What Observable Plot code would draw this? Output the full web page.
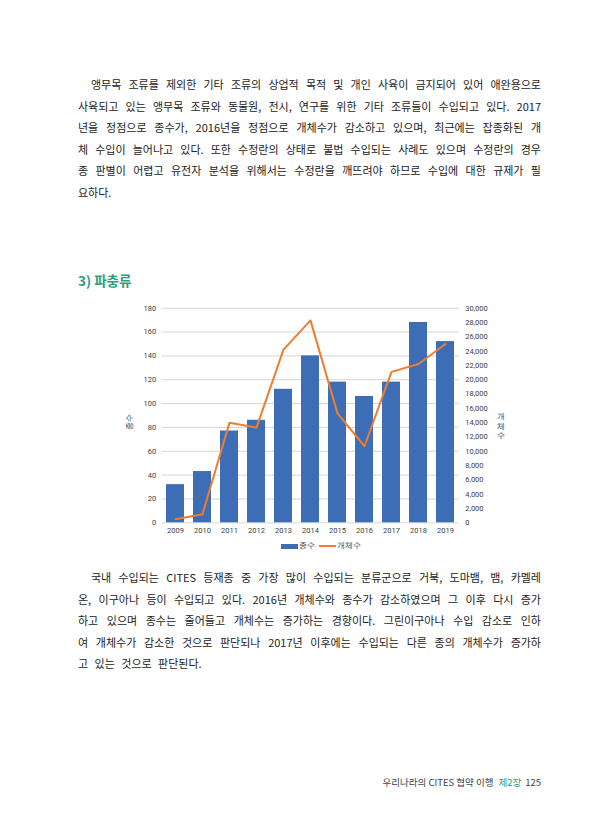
<!DOCTYPE html>
<html>
<head>
<meta charset="utf-8">
<script src="https://cdn.jsdelivr.net/npm/d3@7"></script>
<script src="https://cdn.jsdelivr.net/npm/@observablehq/plot@0.6"></script>
<style>
  html, body { margin: 0; padding: 0; background: #fff; }
  body { width: 614px; height: 830px; position: relative; overflow: hidden;
         font-family: "Noto Sans CJK KR", "Noto Sans", sans-serif; color: #222; }
  .para { position: absolute; left: 78px; width: 463px; font-size: 11px; }
  .para .ln { height: 21.6px; line-height: 21.6px; text-align: justify; text-align-last: justify; white-space: nowrap; }
  .para .ln.last { text-align-last: left; word-spacing: 4px; }
  .para .ln.indent { padding-left: 13px; }
  #title { position: absolute; left: 78px; top: 270px; font-size: 13.5px; font-weight: 700; color: #2e9c7e; line-height: 20px; }
  #chart { position: absolute; left: 0; top: 295px; }
  #legend { position: absolute; top: 541px; left: 281px; display: flex; align-items: center;
            font-family: Roboto, sans-serif; font-size: 7.5px; color: #404040; height: 10px; }
  #legend .sw { display: inline-block; width: 17px; margin-right: 1px; }
  #legend .item { display: flex; align-items: center; margin-right: 4px; }
  #footer { position: absolute; right: 73px; top: 774px; font-size: 9.5px; color: #444; line-height: 16px; white-space: nowrap; }
  #footer .ch { color: #2e9c7e; margin: 0 4px 0 5px; }
</style>
</head>
<body>
<div class="para" id="p1" style="top:74px"></div>
<div id="title">3) 파충류</div>
<div id="chart"></div>
<div id="legend"></div>
<div class="para" id="p2" style="top:567px"></div>
<div id="footer">우리나라의 CITES 협약 이행<span class="ch">제2장</span>125</div>
<script>
// ---- data ----
const years = ["2009", "2010", "2011", "2012", "2013", "2014", "2015", "2016", "2017", "2018", "2019"];
const speciesCount = [32, 43, 77, 86, 112, 140, 118, 106, 118, 168, 152];          // 종수 (left axis)
const individualCount = [500, 1200, 14000, 13300, 24200, 28300, 15300, 10700, 21100, 22200, 25000]; // 개체수 (right axis)
const leftTicks = [0, 20, 40, 60, 80, 100, 120, 140, 160, 180];
const rightTicks = [0, 2000, 4000, 6000, 8000, 10000, 12000, 14000, 16000, 18000, 20000, 22000, 24000, 26000, 28000, 30000];
const seriesNames = ["종수", "개체수"];
const seriesColors = ["#3d6db4", "#ED7D31"];

const para1 = [
  "앵무목 조류를 제외한 기타 조류의 상업적 목적 및 개인 사육이 금지되어 있어 애완용으로",
  "사육되고 있는 앵무목 조류와 동물원, 전시, 연구를 위한 기타 조류들이 수입되고 있다. 2017",
  "년을 정점으로 종수가, 2016년을 정점으로 개체수가 감소하고 있으며, 최근에는 잡종화된 개",
  "체 수입이 늘어나고 있다. 또한 수정란의 상태로 불법 수입되는 사례도 있으며 수정란의 경우",
  "종 판별이 어렵고 유전자 분석을 위해서는 수정란을 깨뜨려야 하므로 수입에 대한 규제가 필",
  "요하다."
];
const para2 = [
  "국내 수입되는 CITES 등재종 중 가장 많이 수입되는 분류군으로 거북, 도마뱀, 뱀, 카멜레",
  "온, 이구아나 등이 수입되고 있다. 2016년 개체수와 종수가 감소하였으며 그 이후 다시 증가",
  "하고 있으며 종수는 줄어들고 개체수는 증가하는 경향이다. 그린이구아나 수입 감소로 인하",
  "여 개체수가 감소한 것으로 판단되나 2017년 이후에는 수입되는 다른 종의 개체수가 증가하",
  "고 있는 것으로 판단된다."
];

function fillPara(id, lines) {
  const el = document.getElementById(id);
  lines.forEach((t, i) => {
    const d = document.createElement("div");
    d.className = "ln" + (i === 0 ? " indent" : "") + (i === lines.length - 1 ? " last" : "");
    d.textContent = t;
    el.appendChild(d);
  });
}
fillPara("p1", para1);
fillPara("p2", para2);

// ---- chart ----
const k = 180 / 30000; // map right-axis values onto left scale
const data = years.map((y, i) => ({year: y, species: speciesCount[i], individuals: individualCount[i]}));

const chart = Plot.plot({
  width: 614,
  height: 250,
  marginLeft: 161.7,
  marginRight: 155.3,
  marginTop: 12.7,
  marginBottom: 22.7,
  x: {domain: years, paddingInner: 0.35, paddingOuter: 0.175, label: null},
  y: {domain: [0, 180], label: null},
  style: {fontFamily: "Roboto, 'Liberation Sans', sans-serif", fontSize: "7.5px", color: "#404040", background: "transparent"},
  marks: [
    Plot.ruleY(leftTicks, {stroke: "#d6d6d6", strokeWidth: 1}),
    Plot.barY(data, {x: "year", y: "species", fill: seriesColors[0]}),
    Plot.lineY(data, {x: "year", y: d => d.individuals * k, stroke: seriesColors[1], strokeWidth: 2}),
    Plot.axisX({tickSize: 0, tickPadding: 5, label: null}),
    Plot.axisY({anchor: "left", ticks: leftTicks, tickSize: 0, tickPadding: 6, label: null}),
    Plot.axisY({anchor: "right", ticks: rightTicks.map(v => v * k),
      tickFormat: v => d3.format(",")(Math.round(v / k)), tickSize: 0, tickPadding: 6, label: null}),
    Plot.text([seriesNames[0]], {frameAnchor: "left", dx: -33, dy: 6, rotate: -90, textAnchor: "middle", fontSize: 7.5, fill: "#404040"}),
    Plot.text(["개\n체\n수"], {frameAnchor: "right", dx: 42, dy: 10, textAnchor: "middle", lineHeight: 1.3, fontSize: 7.5, fill: "#404040"})
  ]
});
document.getElementById("chart").appendChild(chart);

// ---- legend ----
const lg = document.getElementById("legend");
seriesNames.forEach((n, i) => {
  const it = document.createElement("span");
  it.className = "item";
  const sw = document.createElement("span");
  sw.className = "sw";
  sw.style.background = seriesColors[i];
  sw.style.height = i === 0 ? "5px" : "2px";
  it.appendChild(sw);
  it.appendChild(document.createTextNode(n));
  lg.appendChild(it);
});
</script>
</body>
</html>
